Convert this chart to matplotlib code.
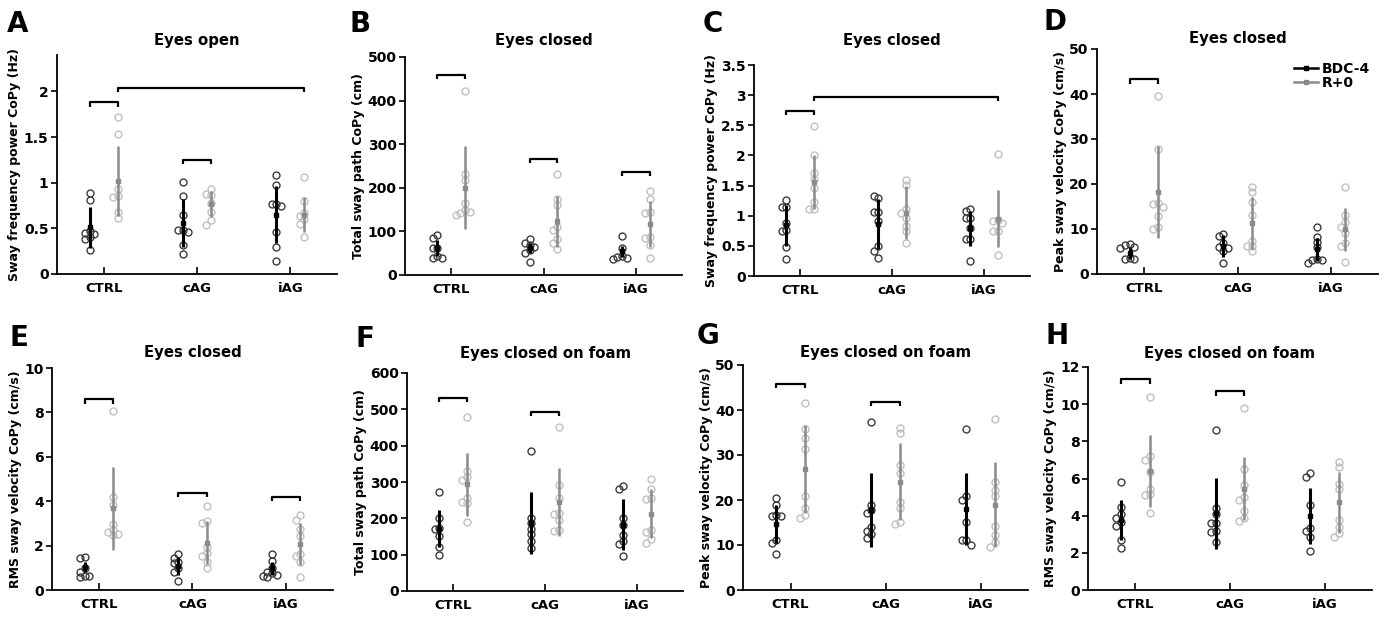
import numpy as np
import matplotlib.pyplot as plt
from matplotlib.lines import Line2D

plt.rcParams['font.family'] = 'DejaVu Sans'
plt.rcParams['font.weight'] = 'bold'

GROUPS = ["CTRL", "cAG", "iAG"]
SERIES = ["BDC-4", "R+0"]

# ---- A: eyes open, sway frequency power (Hz)
A_BDC = [[0.89, 0.81, 0.47, 0.45, 0.44, 0.40, 0.38, 0.26],
         [1.01, 0.85, 0.65, 0.48, 0.48, 0.46, 0.32, 0.22],
         [1.08, 0.97, 0.77, 0.77, 0.75, 0.46, 0.30, 0.14]]
A_R0 = [[1.72, 1.53, 0.93, 0.86, 0.84, 0.68, 0.61],
        [0.93, 0.88, 0.87, 0.78, 0.68, 0.59, 0.54],
        [1.06, 0.80, 0.67, 0.64, 0.60, 0.55, 0.41]]
A_MEAN = [[0.51, 0.56, 0.65], [1.02, 0.77, 0.65]]
A_SD = [[0.22, 0.265, 0.31], [0.38, 0.14, 0.19]]
A_SIG = [(0, 0, 0, 1, 1.88), (0, 1, 2, 1, 2.04), (1, 0, 1, 1, 1.25)]

# ---- B: eyes closed, total sway path (cm)
B_BDC = [[91, 84, 63, 62, 43, 39, 38],
         [82, 73, 69, 64, 58, 50, 29],
         [90, 62, 43, 41, 39, 37]]
B_R0 = [[422, 231, 218, 165, 148, 143, 145, 138],
        [232, 174, 161, 111, 104, 82, 73, 59],
        [193, 174, 144, 142, 88, 86, 69, 39]]
B_MEAN = [[62, 62, 54], [200, 123, 117]]
B_SD = [[19, 11.5, 12], [95, 58, 52]]
B_SIG = [(0, 0, 0, 1, 459), (1, 0, 1, 1, 266), (2, 0, 2, 1, 236)]

# ---- C: eyes closed, sway frequency power (Hz)
C_BDC = [[1.26, 1.14, 1.14, 0.88, 0.77, 0.75, 0.48, 0.28],
         [1.30, 1.32, 1.06, 1.06, 0.92, 0.49, 0.42, 0.30],
         [1.11, 1.07, 0.97, 0.96, 0.79, 0.61, 0.62, 0.25]]
C_R0 = [[2.49, 2.00, 1.71, 1.61, 1.46, 1.23, 1.11, 1.11],
        [1.59, 1.51, 1.11, 1.04, 0.96, 0.83, 0.74, 0.55],
        [2.03, 0.93, 0.91, 0.88, 0.75, 0.74, 0.35]]
C_MEAN = [[0.84, 0.86, 0.79], [1.56, 1.05, 0.95]]
C_SD = [[0.34, 0.41, 0.29], [0.45, 0.44, 0.47]]
C_SIG = [(0, 0, 0, 1, 2.74), (0, 1, 2, 1, 2.97)]

# ---- D: eyes closed, peak sway velocity (cm/s)
D_BDC = [[6.6, 6.5, 6.1, 5.7, 3.6, 3.3, 3.3],
         [8.9, 8.5, 6.8, 5.9, 5.7, 5.2, 2.4],
         [10.5, 8.3, 7.2, 6.1, 3.3, 3.0, 3.0, 2.5]]
D_R0 = [[39.6, 27.7, 15.7, 15.5, 14.8, 12.8, 10.5, 9.9],
        [19.4, 18.2, 15.9, 13.0, 7.4, 6.3, 6.2, 5.0],
        [19.3, 13.1, 11.6, 10.5, 9.1, 6.8, 6.2, 2.7]]
D_MEAN = [[4.6, 6.2, 5.5], [18.3, 11.4, 9.9]]
D_SD = [[1.3, 2.5, 2.55], [10.2, 5.8, 4.8]]
D_SIG = [(0, 0, 0, 1, 43.3)]

# ---- E: eyes closed, RMS sway velocity (cm/s)
E_BDC = [[1.50, 1.43, 0.98, 0.83, 0.65, 0.63, 0.60],
         [1.61, 1.46, 1.25, 1.20, 0.98, 0.83, 0.42],
         [1.64, 1.32, 0.98, 0.83, 0.75, 0.68, 0.63, 0.60]]
E_R0 = [[8.05, 4.21, 3.83, 2.98, 2.71, 2.63, 2.51, 2.48],
        [3.79, 3.11, 3.00, 1.95, 1.65, 1.55, 1.28, 0.98],
        [3.38, 3.16, 2.75, 2.45, 1.61, 1.55, 1.28, 0.60]]
E_MEAN = [[1.05, 1.08, 0.98], [3.68, 2.13, 2.06]]
E_SD = [[0.23, 0.41, 0.29], [1.86, 0.96, 0.94]]
E_SIG = [(0, 0, 0, 1, 8.6), (1, 0, 1, 1, 4.37), (2, 0, 2, 1, 4.2)]

# ---- F: eyes closed on foam, total sway path (cm)
F_BDC = [[273, 200, 174, 170, 152, 121, 100],
         [386, 202, 186, 172, 158, 138, 117],
         [290, 280, 202, 181, 154, 137, 128, 97]]
F_R0 = [[478, 330, 315, 305, 255, 246, 241, 190],
        [451, 292, 255, 216, 213, 195, 167, 165],
        [308, 280, 255, 253, 169, 163, 142, 133]]
F_MEAN = [[172, 188, 183], [294, 245, 213]]
F_SD = [[52, 85, 70], [87, 93, 67]]
F_SIG = [(0, 0, 0, 1, 531), (1, 0, 1, 1, 493)]

# ---- G: eyes closed on foam, peak sway velocity (cm/s)
G_BDC = [[20.4, 18.9, 16.7, 16.5, 16.5, 11.1, 10.4, 8.1],
         [37.3, 19.0, 17.8, 17.1, 14.1, 13.1, 12.4, 11.6],
         [35.8, 20.9, 20.0, 15.2, 11.1, 11.1, 10.0]]
G_R0 = [[41.5, 35.8, 33.7, 31.3, 21.0, 18.3, 16.7, 16.1],
        [36.1, 35.0, 27.8, 26.1, 19.5, 18.3, 15.2, 14.7],
        [38.0, 24.1, 22.2, 21.0, 14.2, 12.2, 10.7, 9.6]]
G_MEAN = [[14.7, 17.8, 18.0], [26.9, 24.1, 19.0]]
G_SD = [[4.15, 8.25, 8.05], [9.7, 8.5, 9.4]]
G_SIG = [(0, 0, 0, 1, 45.8), (1, 0, 1, 1, 41.8)]

# ---- H: eyes closed on foam, RMS sway velocity (cm/s)
H_BDC = [[5.82, 4.44, 4.08, 3.85, 3.67, 3.44, 2.69, 2.24],
         [8.60, 4.39, 4.07, 3.62, 3.58, 3.17, 3.10, 2.56],
         [6.27, 6.09, 4.57, 3.35, 3.17, 2.87, 2.10]]
H_R0 = [[10.39, 7.20, 6.99, 6.36, 5.46, 5.19, 5.10, 4.12],
        [9.80, 6.50, 5.64, 4.98, 4.84, 4.25, 3.85, 3.71],
        [6.90, 6.63, 5.70, 5.42, 3.76, 3.40, 3.05, 2.83]]
H_MEAN = [[3.76, 4.12, 3.99], [6.41, 5.46, 4.71]]
H_SD = [[1.08, 1.89, 1.5], [1.93, 1.72, 1.63]]
H_SIG = [(0, 0, 0, 1, 11.35), (1, 0, 1, 1, 10.7)]

W, H = 1391, 619
OFF = [-0.15, 0.15]
PT_COL = ['#3c3c3c', '#c0c0c0']
BAR_COL = ['#000000', '#8a8a8a']

# letter, title, ylabel, data, ymax, ystep, last tick, box (l, r, top, bottom px), letter xy, title baseline
panels = [
    ("A", "Eyes open", "Sway frequency power CoPy (Hz)", (A_BDC, A_R0, A_MEAN, A_SD, A_SIG),
     2.4, 0.5, 2.0, (57, 337, 55, 274), (7, 32), 45),
    ("B", "Eyes closed", "Total sway path CoPy (cm)", (B_BDC, B_R0, B_MEAN, B_SD, B_SIG),
     500, 100, 500, (405, 682, 57, 275), (350, 32), 45),
    ("C", "Eyes closed", "Sway frequency power CoPy (Hz)", (C_BDC, C_R0, C_MEAN, C_SD, C_SIG),
     3.5, 0.5, 3.5, (754, 1030, 65, 276), (703, 32), 45),
    ("D", "Eyes closed", "Peak sway velocity CoPy (cm/s)", (D_BDC, D_R0, D_MEAN, D_SD, D_SIG),
     50, 10, 50, (1097, 1378, 49, 274), (1043, 30), 43),
    ("E", "Eyes closed", "RMS sway velocity CoPy (cm/s)", (E_BDC, E_R0, E_MEAN, E_SD, E_SIG),
     10, 2, 10, (52, 333, 368, 590), (9, 346), 357),
    ("F", "Eyes closed on foam", "Total sway path CoPy (cm)", (F_BDC, F_R0, F_MEAN, F_SD, F_SIG),
     600, 100, 600, (407, 683, 373, 591), (355, 347), 358),
    ("G", "Eyes closed on foam", "Peak sway velocity CoPy (cm/s)", (G_BDC, G_R0, G_MEAN, G_SD, G_SIG),
     50, 10, 50, (743, 1028, 365, 590), (697, 344), 357),
    ("H", "Eyes closed on foam", "RMS sway velocity CoPy (cm/s)", (H_BDC, H_R0, H_MEAN, H_SD, H_SIG),
     12, 2, 12, (1088, 1372, 367, 590), (1045, 344), 358),
]


def swarm(vals, center, ymax):
    # small beeswarm, circles are allowed to overlap a bit like the original
    placed = []
    for v in vals:
        for k in [0, -1, 1, -2, 2]:
            x = center + k * 0.05
            ok = all(((x - px) / 0.045) ** 2 + ((v - pv) / (0.022 * ymax)) ** 2 >= 1
                     for px, pv in placed)
            if ok:
                break
        placed.append((x, v))
    return [p[0] for p in placed]


fig = plt.figure(figsize=(W / 100, H / 100), dpi=100)

for letter, title, ylabel, (bdc, r0, mean, sd, sig), ymax, ystep, ytop, box, lxy, tbase in panels:
    l, r, t, b = box
    ax = fig.add_axes([l / W, 1 - b / H, (r - l) / W, (b - t) / H])
    for s, pts in enumerate([bdc, r0]):
        for g in range(3):
            xc = g + 1 + OFF[s]
            xs = swarm(pts[g], xc, ymax)
            ax.plot(xs, pts[g], 'o', mfc='none', mec=PT_COL[s], ms=5, mew=1.0, zorder=2)
        xm = np.arange(1, 4) + OFF[s]
        ax.errorbar(xm, mean[s], yerr=sd[s], fmt='s', color=BAR_COL[s], ms=3.5,
                    elinewidth=2.2 if s == 0 else 1.8, capsize=0, zorder=3)
    for g1, s1, g2, s2, yb in sig:
        x1 = g1 + 1 + OFF[s1]
        x2 = g2 + 1 + OFF[s2]
        d = 0.02 * ymax
        ax.plot([x1, x1, x2, x2], [yb - d, yb, yb, yb - d], color='black', lw=1.6,
                solid_capstyle='butt', zorder=4)

    ax.set_xlim(0.5, 3.5)
    ax.set_ylim(0, ymax)
    ax.set_xticks([1, 2, 3])
    ax.set_xticklabels(GROUPS, fontsize=9.5, fontweight='bold')
    yt = np.arange(0, ytop + ystep / 2, ystep)
    ax.set_yticks(yt)
    ax.set_yticklabels([f"{v:g}" for v in yt], fontsize=10, fontweight='bold')
    ax.tick_params(axis='y', direction='out', length=4, width=1.2, pad=2)
    ax.tick_params(axis='x', direction='in', length=5, width=1.2, pad=6)
    for sp in ['top', 'right']:
        ax.spines[sp].set_visible(False)
    for sp in ['left', 'bottom']:
        ax.spines[sp].set_linewidth(1.3)
    ax.set_ylabel(ylabel, fontsize=9, fontweight='bold', labelpad=2)

    fig.text((l + r) / 2 / W, 1 - tbase / H, title, ha='center', va='baseline',
             fontsize=10.7, fontweight='bold')
    fig.text(lxy[0] / W, 1 - lxy[1] / H, letter, ha='left', va='baseline',
             fontsize=20, fontweight='bold')

    if letter == "D":
        handles = [Line2D([0], [0], color=BAR_COL[i], marker='s', ms=3.5, lw=1.8) for i in range(2)]
        ax.legend(handles, SERIES, loc='upper right', frameon=False, fontsize=10,
                  handlelength=1.7, handletextpad=0.3, labelspacing=0.05, borderaxespad=0,
                  bbox_to_anchor=(1376 / W, 1 - 56 / H), bbox_transform=fig.transFigure)

fig.savefig("out.png", dpi=100)
